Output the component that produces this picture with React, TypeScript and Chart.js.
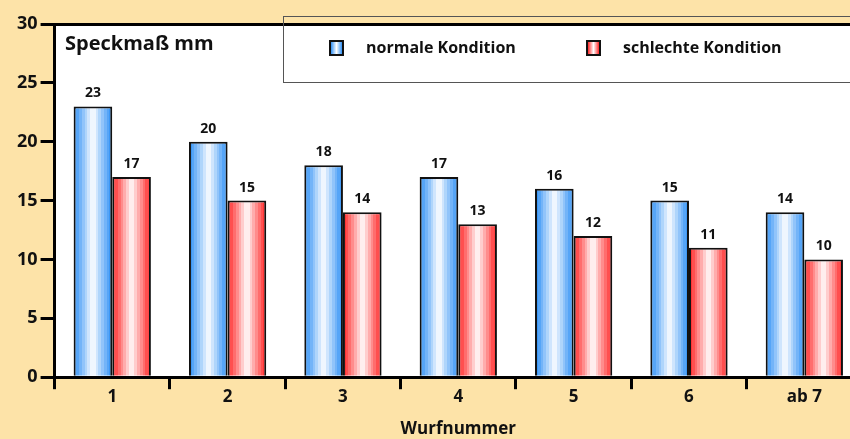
import React, { useEffect, useRef } from 'react';
import { Chart, registerables } from 'chart.js';
Chart.register(...registerables);

const categories = ['1', '2', '3', '4', '5', '6', 'ab 7'];
const normalValues = [23, 20, 18, 17, 16, 15, 14];
const badValues = [17, 15, 14, 13, 12, 11, 10];
const seriesNames = ['normale Kondition', 'schlechte Kondition'];
const yLabel = 'Speckmaß mm';
const xLabel = 'Wurfnummer';
const yMin = 0;
const yMax = 30;
const yStep = 5;

const FONT = '"Open Sans", "DejaVu Sans", sans-serif';
const BG = '#fde3a8';
const BLUE_EDGE: [number, number, number] = [48, 145, 245];
const RED_EDGE: [number, number, number] = [255, 40, 40];
const WHITE: [number, number, number] = [255, 255, 255];

function bandGradient(ctx: CanvasRenderingContext2D, x0: number, x1: number, edge: number[], center: number[]) {
  const g = ctx.createLinearGradient(x0, 0, x1, 0);
  const n = 14;
  for (let i = 0; i < n; i++) {
    const mid = (i + 0.5) / n;
    const t = 1 - Math.abs(mid - 0.5) * 2;
    const f = Math.pow(t, 1.1);
    const c = edge.map((e, k) => Math.round(e + (center[k] - e) * f));
    const col = `rgb(${c[0]},${c[1]},${c[2]})`;
    g.addColorStop(i / n, col);
    g.addColorStop((i + 1) / n, col);
  }
  return g;
}

const gradPlugin = {
  id: 'gradBars',
  beforeDatasetsDraw(chart: any) {
    const ctx = chart.ctx;
    chart.data.datasets.forEach((_ds: any, di: number) => {
      const meta = chart.getDatasetMeta(di);
      const edge = di === 0 ? BLUE_EDGE : RED_EDGE;
      meta.data.forEach((el: any) => {
        const { x, width } = el.getProps(['x', 'width'], true);
        const g = bandGradient(ctx, x - width / 2, x + width / 2, edge, WHITE);
        el.options = Object.assign({}, el.options, { backgroundColor: g });
      });
    });
  },
  afterDatasetsDraw(chart: any) {
    const ctx = chart.ctx;
    ctx.save();
    ctx.fillStyle = '#111';
    ctx.font = `bold 14px ${FONT}`;
    ctx.textAlign = 'center';
    ctx.textBaseline = 'bottom';
    chart.data.datasets.forEach((ds: any, di: number) => {
      const meta = chart.getDatasetMeta(di);
      meta.data.forEach((el: any, i: number) => {
        const { x, y } = el.getProps(['x', 'y'], true);
        ctx.fillText(String(ds.data[i]), x, y - 6);
      });
    });
    ctx.restore();
  },
};

const areaPlugin = {
  id: 'whiteArea',
  beforeDraw(chart: any) {
    const { ctx, chartArea } = chart;
    ctx.save();
    ctx.fillStyle = '#ffffff';
    ctx.fillRect(chartArea.left, chartArea.top, chartArea.right - chartArea.left, chartArea.bottom - chartArea.top);
    ctx.restore();
  },
};

export default function App() {
  const ref = useRef<HTMLCanvasElement>(null);
  useEffect(() => {
    const chart = new Chart(ref.current!, {
      type: 'bar',
      data: {
        labels: categories,
        datasets: [
          { label: seriesNames[0], data: normalValues, backgroundColor: 'rgb(48,145,245)', borderColor: '#111', borderWidth: 2 },
          { label: seriesNames[1], data: badValues, backgroundColor: 'rgb(255,40,40)', borderColor: '#111', borderWidth: 2 },
        ],
      },
      options: {
        responsive: false,
        animation: false,
        events: [],
        layout: { padding: { top: 24, left: 14, right: 0, bottom: 0 } },
        datasets: { bar: { barPercentage: 1, categoryPercentage: 0.67 } },
        plugins: { legend: { display: false }, tooltip: { enabled: false }, title: { display: false } },
        scales: {
          x: {
            border: { color: '#000', width: 3 },
            grid: { drawOnChartArea: false, tickLength: 12, tickColor: '#000', tickWidth: 3, offset: true },
            ticks: { color: '#111', font: { family: FONT, size: 17, weight: 'bold' }, padding: -2 },
            title: { display: true, text: xLabel, color: '#111', font: { family: FONT, size: 17, weight: 'bold' }, padding: { top: 13, bottom: 0 } },
          },
          y: {
            min: yMin,
            max: yMax,
            border: { color: '#000', width: 3 },
            grid: {
              drawOnChartArea: true,
              color: (c: any) => (c.tick && c.tick.value === yMax ? '#000' : 'rgba(0,0,0,0)'),
              lineWidth: 3,
              tickLength: 14,
              tickColor: '#000',
              tickWidth: 3,
            },
            ticks: { stepSize: yStep, color: '#111', font: { family: FONT, size: 18, weight: 'bold' }, padding: 3 },
          },
        },
      },
      plugins: [areaPlugin, gradPlugin],
    } as any);
    return () => chart.destroy();
  }, []);

  const sq = (edge: number[]) => {
    const e = `rgb(${edge[0]},${edge[1]},${edge[2]})`;
    return {
      position: 'absolute' as const,
      width: 11,
      height: 12,
      border: '2px solid #111',
      background: `linear-gradient(to right, ${e}, #fff 50%, ${e})`,
    };
  };
  const txt = {
    position: 'absolute' as const,
    fontFamily: FONT,
    fontWeight: 700,
    fontSize: 16,
    lineHeight: '20px',
    color: '#111',
    whiteSpace: 'nowrap' as const,
  };

  return (
    <div style={{ position: 'fixed', left: 0, top: 0, width: 850, height: 439, overflow: 'hidden', background: BG }}>
      <canvas ref={ref} width={862} height={439} style={{ position: 'absolute', left: 0, top: 0, width: 862, height: 439 }} />
      <div style={{ position: 'absolute', left: 283, top: 16, width: 600, height: 65, border: '1px solid #555' }} />
      <div style={{ ...sq(BLUE_EDGE), left: 329, top: 40 }} />
      <div style={{ ...txt, left: 366, top: 37 }}>{seriesNames[0]}</div>
      <div style={{ ...sq(RED_EDGE), left: 586, top: 40 }} />
      <div style={{ ...txt, left: 623, top: 37 }}>{seriesNames[1]}</div>
      <div style={{ ...txt, fontSize: 20, lineHeight: '24px', left: 65, top: 31 }}>{yLabel}</div>
    </div>
  );
}
